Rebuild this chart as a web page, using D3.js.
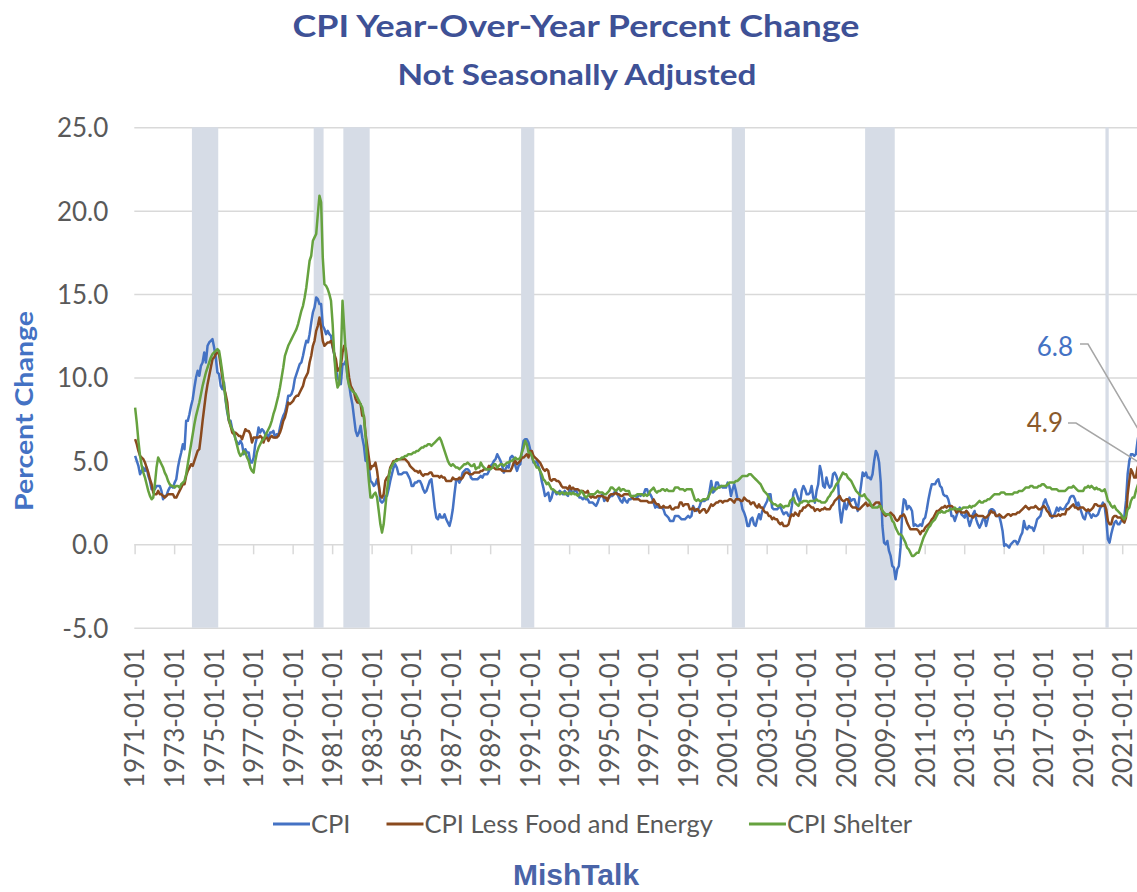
<!DOCTYPE html>
<html>
<head>
<meta charset="utf-8">
<script src="https://cdn.jsdelivr.net/npm/d3@7"></script>
<style>
    body { margin: 0; background: #fff; }
    svg { display: block; font-family: Lato, "Open Sans", sans-serif; }
</style>
</head>
<body>
<svg id="chart" width="1137" height="892"></svg>
<script>
// Monthly categories: 1971-01 .. 2021-11
const firstMonth = new Date(1971, 0, 1);
const lastMonthExclusive = new Date(2021, 11, 1);

// Y axis ticks
const yTicks = [-5, 0, 5, 10, 15, 20, 25];

// NBER recessions (first month, last month)
const recessions = [
    ["1973-12", "1975-03"],
    ["1980-02", "1980-07"],
    ["1981-08", "1982-11"],
    ["1990-08", "1991-03"],
    ["2001-04", "2001-11"],
    ["2008-01", "2009-06"],
    ["2020-03", "2020-04"]
];

// CPI, all items, YoY % (one row per year)
const cpi = [
    5.3, 5.0, 4.7, 4.2, 4.4, 4.6, 4.4, 4.6, 4.1, 3.8, 3.3, 3.3,
    3.3, 3.5, 3.5, 3.5, 3.2, 2.7, 2.9, 2.9, 3.2, 3.4, 3.5, 3.4,
    3.7, 3.9, 4.6, 5.1, 5.5, 6.0, 5.7, 7.4, 7.4, 7.8, 8.3, 8.7,
    9.4, 10.0, 10.4, 10.1, 10.7, 10.9, 11.5, 10.9, 11.9, 12.1, 12.2, 12.3,
    11.8, 11.2, 10.3, 10.2, 9.5, 9.3, 9.7, 8.6, 7.9, 7.4, 7.4, 6.9,
    6.7, 6.3, 6.1, 6.0, 6.2, 6.0, 5.4, 5.7, 5.5, 5.5, 4.9, 4.9,
    5.2, 6.0, 6.4, 7.0, 6.7, 6.9, 6.8, 6.6, 6.6, 6.4, 6.7, 6.7,
    6.8, 6.4, 6.6, 6.5, 7.0, 7.4, 7.7, 7.9, 8.3, 8.9, 8.9, 9.0,
    9.3, 9.9, 10.2, 10.5, 10.8, 10.9, 11.3, 11.8, 12.2, 12.1, 12.6, 13.3,
    13.9, 14.2, 14.8, 14.7, 14.4, 14.4, 13.1, 12.9, 12.6, 12.8, 12.6, 12.5,
    11.8, 11.4, 10.5, 10.0, 9.8, 9.6, 10.8, 10.8, 11.0, 10.1, 9.6, 8.9,
    8.4, 7.6, 6.8, 6.5, 6.7, 7.1, 6.4, 5.9, 5.0, 5.1, 4.6, 3.8,
    3.7, 3.5, 3.6, 3.9, 3.5, 2.6, 2.5, 2.6, 2.9, 2.9, 3.3, 3.8,
    4.2, 4.6, 4.8, 4.6, 4.2, 4.2, 4.2, 4.3, 4.3, 4.3, 4.1, 3.9,
    3.5, 3.5, 3.7, 3.7, 3.8, 3.8, 3.6, 3.3, 3.1, 3.2, 3.5, 3.8,
    3.9, 3.1, 2.2, 1.6, 1.5, 1.8, 1.6, 1.6, 1.8, 1.5, 1.3, 1.1,
    1.5, 2.1, 3.0, 3.8, 3.9, 3.7, 3.9, 4.3, 4.4, 4.5, 4.5, 4.4,
    4.0, 3.9, 3.9, 3.9, 3.9, 4.0, 4.1, 4.0, 4.2, 4.2, 4.2, 4.4,
    4.7, 4.8, 5.0, 5.1, 5.4, 5.2, 5.0, 4.7, 4.3, 4.5, 4.7, 4.6,
    5.2, 5.3, 5.2, 4.7, 4.4, 4.7, 4.8, 5.6, 6.2, 6.3, 6.3, 6.1,
    5.7, 5.3, 4.9, 4.9, 5.0, 4.7, 4.4, 3.8, 3.4, 2.9, 3.0, 3.1,
    2.6, 2.8, 3.2, 3.2, 3.0, 3.1, 3.2, 3.1, 3.0, 3.2, 3.0, 2.9,
    3.3, 3.2, 3.1, 3.2, 3.2, 3.0, 2.8, 2.8, 2.7, 2.8, 2.7, 2.7,
    2.5, 2.5, 2.5, 2.4, 2.3, 2.5, 2.8, 2.9, 3.0, 2.6, 2.7, 2.7,
    2.8, 2.9, 2.9, 3.1, 3.2, 3.0, 2.8, 2.6, 2.5, 2.8, 2.6, 2.5,
    2.7, 2.7, 2.8, 2.9, 2.9, 2.8, 3.0, 2.9, 3.0, 3.0, 3.3, 3.3,
    3.0, 3.0, 2.8, 2.5, 2.2, 2.3, 2.2, 2.2, 2.2, 2.1, 1.8, 1.7,
    1.6, 1.4, 1.4, 1.4, 1.7, 1.7, 1.7, 1.6, 1.5, 1.5, 1.5, 1.6,
    1.7, 1.6, 1.7, 2.3, 2.1, 2.0, 2.1, 2.3, 2.6, 2.6, 2.6, 2.7,
    2.7, 3.2, 3.8, 3.1, 3.2, 3.7, 3.7, 3.4, 3.5, 3.4, 3.4, 3.4,
    3.7, 3.5, 2.9, 3.3, 3.6, 3.2, 2.7, 2.7, 2.6, 2.1, 1.9, 1.6,
    1.1, 1.1, 1.5, 1.6, 1.2, 1.1, 1.5, 1.8, 1.5, 2.0, 2.2, 2.4,
    2.6, 3.0, 3.0, 2.2, 2.1, 2.1, 2.1, 2.2, 2.3, 2.0, 1.8, 1.9,
    1.9, 1.7, 1.7, 2.3, 3.1, 3.3, 3.0, 2.7, 2.5, 3.2, 3.5, 3.3,
    3.0, 3.0, 3.1, 3.5, 2.8, 2.5, 3.2, 3.6, 4.7, 4.3, 3.5, 3.4,
    4.0, 3.6, 3.4, 3.5, 4.2, 4.3, 4.1, 3.8, 2.1, 1.3, 2.0, 2.5,
    2.1, 2.4, 2.8, 2.6, 2.7, 2.7, 2.4, 2.0, 2.8, 3.5, 4.3, 4.1,
    4.3, 4.0, 4.0, 3.9, 4.2, 5.0, 5.6, 5.4, 4.9, 3.7, 1.1, 0.1,
    0.0, 0.2, -0.4, -0.7, -1.3, -1.4, -2.1, -1.5, -1.3, -0.2, 1.8, 2.7,
    2.6, 2.1, 2.3, 2.2, 2.0, 1.1, 1.2, 1.1, 1.1, 1.2, 1.1, 1.5,
    1.6, 2.1, 2.7, 3.2, 3.6, 3.6, 3.6, 3.8, 3.9, 3.5, 3.4, 3.0,
    2.9, 2.9, 2.7, 2.3, 1.7, 1.7, 1.4, 1.7, 2.0, 2.2, 1.8, 1.7,
    1.6, 2.0, 1.5, 1.1, 1.4, 1.8, 2.0, 1.5, 1.2, 1.0, 1.2, 1.5,
    1.6, 1.1, 1.5, 2.0, 2.1, 2.1, 2.0, 1.7, 1.7, 1.7, 1.3, 0.8,
    -0.1, 0.0, -0.1, -0.2, 0.0, 0.1, 0.2, 0.2, 0.0, 0.2, 0.5, 0.7,
    1.4, 1.0, 0.9, 1.1, 1.0, 1.0, 0.8, 1.1, 1.5, 1.6, 1.7, 2.1,
    2.5, 2.7, 2.4, 2.2, 1.9, 1.6, 1.7, 1.9, 2.2, 2.0, 2.2, 2.1,
    2.1, 2.2, 2.4, 2.5, 2.8, 2.9, 2.9, 2.7, 2.3, 2.5, 2.2, 1.9,
    1.6, 1.5, 1.9, 2.0, 1.8, 1.6, 1.8, 1.7, 1.7, 1.8, 2.1, 2.3,
    2.5, 2.3, 1.5, 0.3, 0.1, 0.6, 1.0, 1.3, 1.4, 1.2, 1.2, 1.4,
    1.4, 1.7, 2.6, 4.2, 5.0, 5.4, 5.4, 5.3, 5.4, 6.2, 6.8
];

// CPI less food and energy, YoY %
const core = [
    6.3, 6.0, 5.6, 5.3, 5.2, 5.1, 4.9, 4.6, 4.3, 3.9, 3.6, 3.1,
    3.0, 3.0, 3.2, 3.0, 3.0, 2.9, 2.8, 2.9, 3.0, 3.0, 3.0, 3.0,
    2.8, 2.8, 3.0, 3.2, 3.4, 3.6, 3.6, 4.1, 4.4, 4.6, 4.8, 4.7,
    5.0, 5.3, 5.6, 5.7, 6.5, 7.4, 8.2, 9.0, 9.6, 10.1, 10.6, 11.1,
    11.2, 11.4, 11.5, 11.4, 10.7, 10.0, 9.4, 9.0, 8.5, 7.4, 7.1, 6.7,
    6.6, 6.7, 6.6, 6.5, 6.5, 6.3, 6.6, 6.9, 6.8, 6.8, 6.6, 6.1,
    6.4, 6.4, 6.4, 6.4, 6.5, 6.4, 6.1, 6.4, 6.4, 6.2, 6.4, 6.5,
    6.4, 6.4, 6.4, 6.5, 6.7, 7.0, 7.4, 7.6, 8.0, 8.5, 8.4, 8.5,
    8.6, 8.8, 8.9, 8.9, 9.1, 9.3, 9.5, 9.9, 10.1, 10.3, 10.9, 11.3,
    11.9, 12.2, 12.8, 13.1, 13.6, 13.0, 12.2, 11.9, 12.0, 12.1, 12.1, 12.2,
    11.9, 11.4, 11.1, 10.4, 10.5, 10.7, 11.5, 11.9, 11.7, 10.8, 10.0, 9.5,
    9.3, 9.1, 8.7, 8.5, 8.5, 8.4, 7.7, 7.7, 6.6, 5.9, 5.2, 4.5,
    4.7, 4.7, 4.9, 4.4, 3.6, 2.9, 2.8, 3.0, 3.8, 4.0, 4.1, 4.6,
    4.8, 5.0, 5.0, 5.1, 5.1, 5.1, 5.1, 5.1, 5.1, 5.0, 4.9, 4.7,
    4.6, 4.5, 4.4, 4.4, 4.3, 4.4, 4.2, 4.1, 4.2, 4.2, 4.2, 4.3,
    4.3, 4.1, 4.1, 4.1, 4.1, 4.0, 4.1, 4.0, 4.0, 3.8, 3.8, 3.8,
    3.8, 4.0, 3.9, 3.9, 3.9, 4.0, 3.9, 4.0, 4.2, 4.3, 4.3, 4.2,
    4.2, 4.2, 4.3, 4.3, 4.3, 4.3, 4.4, 4.4, 4.5, 4.5, 4.5, 4.7,
    4.6, 4.6, 4.6, 4.5, 4.5, 4.5, 4.5, 4.4, 4.4, 4.4, 4.4, 4.4,
    4.4, 4.6, 4.9, 5.0, 4.8, 4.9, 5.0, 5.2, 5.2, 5.3, 5.4, 5.2,
    5.6, 5.6, 5.3, 5.2, 5.1, 5.0, 4.9, 4.7, 4.5, 4.4, 4.5, 4.4,
    3.9, 3.8, 3.9, 3.9, 3.8, 3.8, 3.7, 3.5, 3.4, 3.4, 3.4, 3.3,
    3.5, 3.3, 3.4, 3.3, 3.3, 3.3, 3.2, 3.2, 3.2, 3.1, 3.1, 3.2,
    2.9, 2.8, 2.9, 2.8, 2.8, 2.9, 2.9, 2.9, 2.9, 2.8, 2.8, 2.6,
    2.9, 3.0, 3.0, 3.0, 3.1, 3.0, 3.0, 2.9, 2.9, 3.0, 3.0, 3.0,
    3.0, 2.9, 2.8, 2.7, 2.7, 2.7, 2.7, 2.6, 2.6, 2.6, 2.6, 2.6,
    2.5, 2.5, 2.5, 2.7, 2.5, 2.4, 2.4, 2.2, 2.2, 2.3, 2.2, 2.2,
    2.2, 2.3, 2.1, 2.1, 2.2, 2.2, 2.2, 2.5, 2.5, 2.3, 2.4, 2.4,
    2.4, 2.1, 2.1, 2.2, 2.0, 2.1, 2.1, 1.9, 2.0, 2.1, 2.1, 1.9,
    2.0, 2.2, 2.4, 2.3, 2.4, 2.5, 2.5, 2.6, 2.6, 2.5, 2.6, 2.6,
    2.6, 2.7, 2.7, 2.6, 2.5, 2.7, 2.7, 2.7, 2.6, 2.6, 2.8, 2.7,
    2.6, 2.6, 2.4, 2.5, 2.5, 2.3, 2.2, 2.4, 2.2, 2.2, 2.0, 1.9,
    1.9, 1.7, 1.7, 1.5, 1.6, 1.5, 1.5, 1.3, 1.2, 1.3, 1.1, 1.1,
    1.1, 1.2, 1.6, 1.8, 1.7, 1.9, 1.8, 1.7, 2.0, 2.0, 2.2, 2.2,
    2.3, 2.4, 2.3, 2.2, 2.2, 2.0, 2.1, 2.1, 2.0, 2.1, 2.1, 2.2,
    2.1, 2.1, 2.1, 2.3, 2.4, 2.6, 2.7, 2.8, 2.9, 2.7, 2.6, 2.6,
    2.7, 2.7, 2.5, 2.3, 2.2, 2.2, 2.2, 2.1, 2.1, 2.2, 2.3, 2.4,
    2.5, 2.3, 2.4, 2.3, 2.3, 2.4, 2.5, 2.5, 2.5, 2.2, 2.0, 1.8,
    1.7, 1.8, 1.8, 1.9, 1.8, 1.7, 1.5, 1.4, 1.5, 1.7, 1.7, 1.8,
    1.6, 1.3, 1.1, 0.9, 0.9, 0.9, 0.9, 0.9, 0.8, 0.6, 0.8, 0.8,
    1.0, 1.1, 1.2, 1.3, 1.5, 1.6, 1.8, 2.0, 2.0, 2.1, 2.2, 2.2,
    2.3, 2.2, 2.3, 2.3, 2.3, 2.2, 2.1, 1.9, 2.0, 2.0, 1.9, 1.9,
    1.9, 2.0, 1.9, 1.7, 1.7, 1.6, 1.7, 1.8, 1.7, 1.7, 1.7, 1.7,
    1.6, 1.6, 1.7, 1.8, 2.0, 1.9, 1.9, 1.7, 1.7, 1.8, 1.7, 1.6,
    1.6, 1.7, 1.8, 1.8, 1.7, 1.8, 1.8, 1.8, 1.9, 1.9, 2.0, 2.1,
    2.2, 2.3, 2.2, 2.1, 2.2, 2.2, 2.2, 2.3, 2.2, 2.1, 2.1, 2.2,
    2.3, 2.2, 2.0, 1.9, 1.7, 1.7, 1.7, 1.7, 1.7, 1.8, 1.7, 1.8,
    1.8, 1.8, 2.1, 2.1, 2.2, 2.3, 2.4, 2.2, 2.2, 2.1, 2.2, 2.2,
    2.2, 2.1, 2.0, 2.1, 2.0, 2.1, 2.2, 2.4, 2.4, 2.3, 2.3, 2.3,
    2.3, 2.4, 2.1, 1.4, 1.2, 1.2, 1.6, 1.7, 1.7, 1.6, 1.6, 1.6,
    1.4, 1.3, 1.6, 3.0, 3.8, 4.5, 4.3, 4.0, 4.0, 4.6, 4.9
];

// CPI shelter, YoY %
const shelter = [
    8.2, 7.3, 6.2, 5.3, 4.7, 4.3, 4.0, 3.6, 3.2, 2.9, 2.7, 2.8,
    3.6, 4.6, 5.2, 5.0, 4.8, 4.6, 4.3, 4.1, 3.8, 3.6, 3.5, 3.5,
    3.4, 3.5, 3.5, 3.4, 3.6, 3.7, 3.8, 4.2, 4.8, 5.4, 6.0, 6.6,
    7.2, 7.7, 8.1, 8.5, 9.0, 9.5, 9.9, 10.3, 10.6, 10.9, 11.2, 11.4,
    11.5, 11.6, 11.7, 11.6, 11.0, 10.3, 9.5, 8.7, 8.0, 7.5, 7.1, 6.9,
    6.7, 6.3, 5.9, 5.5, 5.3, 5.4, 5.6, 5.5, 5.2, 5.0, 4.6, 4.4,
    4.3, 5.0, 5.5, 5.8, 6.0, 6.2, 6.3, 6.5, 6.7, 6.9, 7.1, 7.4,
    7.8, 8.1, 8.5, 8.9, 9.4, 10.0, 10.6, 11.3, 11.6, 11.9, 12.1, 12.3,
    12.5, 12.7, 12.9, 13.2, 13.6, 14.0, 14.3, 14.8, 15.4, 16.2, 17.0, 17.3,
    18.2, 18.4, 18.6, 19.8, 20.9, 20.5, 17.2, 15.6, 15.5, 15.3, 15.0, 14.6,
    13.2, 11.3, 10.0, 9.4, 9.6, 11.2, 14.6, 13.0, 11.4, 10.0, 9.5, 9.3,
    9.2, 9.1, 9.0, 8.8, 8.6, 8.4, 8.2, 7.6, 6.5, 5.0, 3.8, 2.8,
    2.8, 3.0, 3.1, 2.8, 2.0, 1.2, 0.7, 1.2, 2.2, 3.2, 4.0, 4.5,
    4.7, 4.9, 5.0, 5.0, 5.1, 5.1, 5.2, 5.2, 5.3, 5.3, 5.4, 5.4,
    5.4, 5.5, 5.5, 5.6, 5.6, 5.7, 5.8, 5.8, 5.9, 5.9, 6.0, 6.0,
    5.9, 6.0, 6.1, 6.2, 6.3, 6.4, 6.2, 5.9, 5.6, 5.3, 5.0, 4.8,
    4.7, 4.8, 4.7, 4.6, 4.6, 4.5, 4.6, 4.7, 4.8, 4.8, 4.9, 4.8,
    4.7, 4.7, 4.8, 4.5, 4.6, 4.6, 4.9, 4.7, 4.6, 4.5, 4.5, 4.5,
    4.5, 4.6, 4.8, 4.8, 4.6, 4.7, 4.8, 4.8, 4.7, 4.8, 4.9, 4.9,
    5.0, 5.0, 5.1, 5.2, 5.1, 5.1, 5.2, 5.5, 5.8, 6.2, 6.0, 5.5,
    5.5, 5.3, 5.0, 4.8, 4.6, 4.6, 4.4, 4.2, 3.9, 3.8, 3.6, 3.7,
    3.5, 3.3, 3.3, 3.2, 3.1, 3.1, 3.0, 3.1, 3.1, 3.0, 3.1, 3.0,
    3.1, 3.0, 3.1, 3.0, 3.0, 2.9, 3.0, 3.2, 3.1, 2.9, 2.8, 2.9,
    3.0, 3.0, 3.0, 3.0, 3.1, 3.2, 3.1, 3.1, 3.1, 3.0, 3.0, 3.1,
    3.2, 3.4, 3.4, 3.3, 3.2, 3.3, 3.4, 3.2, 3.3, 3.3, 3.2, 3.2,
    3.2, 2.9, 2.9, 2.9, 2.9, 3.0, 3.0, 3.0, 3.0, 2.9, 3.0, 2.9,
    3.0, 3.2, 3.3, 3.4, 3.2, 3.1, 3.2, 3.2, 3.3, 3.3, 3.2, 3.3,
    3.2, 3.2, 3.2, 3.2, 3.4, 3.4, 3.4, 3.3, 3.3, 3.3, 3.2, 3.3,
    3.3, 3.3, 3.3, 3.0, 2.7, 2.6, 2.7, 2.6, 2.6, 2.7, 2.7, 2.7,
    2.8, 3.0, 3.2, 3.4, 3.3, 3.3, 3.4, 3.4, 3.5, 3.5, 3.5, 3.5,
    3.6, 3.7, 3.7, 3.7, 3.7, 3.8, 3.8, 3.9, 4.0, 4.1, 4.1, 4.1,
    4.1, 4.2, 4.2, 4.1, 4.0, 3.9, 3.8, 3.7, 3.6, 3.4, 3.2, 3.1,
    3.0, 2.8, 2.6, 2.5, 2.4, 2.4, 2.3, 2.3, 2.4, 2.3, 2.2, 2.3,
    2.3, 2.3, 2.6, 2.7, 2.8, 2.5, 2.4, 2.3, 2.5, 2.5, 2.6, 2.6,
    2.6, 2.5, 2.6, 2.6, 2.6, 2.6, 2.7, 2.6, 2.6, 2.5, 2.5, 2.5,
    2.6, 2.8, 2.9, 3.1, 3.2, 3.4, 3.6, 3.7, 3.9, 4.1, 4.3, 4.2,
    4.2, 4.0, 3.9, 3.8, 3.6, 3.4, 3.2, 3.1, 3.0, 2.9, 2.9, 3.0,
    2.8, 2.7, 2.6, 2.4, 2.2, 2.2, 2.2, 2.2, 2.3, 2.3, 2.0, 1.9,
    1.8, 1.8, 1.8, 1.7, 1.4, 1.3, 1.0, 0.8, 0.6, 0.6, 0.5, 0.3,
    0.1, -0.2, -0.3, -0.5, -0.7, -0.7, -0.6, -0.5, -0.5, -0.2, 0.1, 0.4,
    0.6, 0.8, 1.0, 1.1, 1.3, 1.4, 1.5, 1.7, 1.9, 1.9, 2.0, 1.9,
    1.9, 2.0, 2.0, 2.1, 2.1, 2.1, 2.2, 2.1, 2.1, 2.1, 2.1, 2.2,
    2.2, 2.2, 2.2, 2.3, 2.2, 2.3, 2.3, 2.4, 2.5, 2.6, 2.5, 2.5,
    2.6, 2.6, 2.7, 2.7, 2.8, 2.9, 3.0, 3.0, 3.0, 3.0, 3.1, 3.1,
    3.1, 3.0, 3.0, 3.0, 3.0, 3.0, 3.1, 3.1, 3.1, 3.2, 3.2, 3.2,
    3.3, 3.4, 3.4, 3.4, 3.5, 3.5, 3.4, 3.4, 3.4, 3.5, 3.5, 3.6,
    3.6, 3.5, 3.4, 3.4, 3.4, 3.3, 3.3, 3.3, 3.3, 3.2, 3.2, 3.2,
    3.2, 3.2, 3.3, 3.4, 3.4, 3.4, 3.5, 3.4, 3.3, 3.2, 3.2, 3.2,
    3.2, 3.4, 3.4, 3.5, 3.4, 3.5, 3.4, 3.3, 3.4, 3.3, 3.3, 3.2,
    3.2, 3.3, 3.0, 2.6, 2.5, 2.3, 2.2, 2.3, 2.1, 2.0, 1.9, 1.8,
    1.6, 1.5, 1.7, 2.1, 2.2, 2.6, 2.8, 2.8, 3.2, 3.5, 3.8
];

const seriesNames = ["CPI", "CPI Less Food and Energy", "CPI Shelter"];
const seriesColors = ["#4472c4", "#8a4a1e", "#66a23f"];

// Labels on the last point of two series
const calloutSeries = [0, 1];
const calloutColors = ["#4472c4", "#8b5a2b"];

document.addEventListener("DOMContentLoaded", () => {
    const svg = d3.select("#chart");
    const fmtMonth = d3.timeFormat("%Y-%m");
    const fmtLabel = d3.timeFormat("%Y-%m-%d");
    // plain hyphen for negatives, like the source
    const fmtValue = v => d3.format(".1f")(v).replace("\u2212", "-");

    const months = d3.timeMonth.range(firstMonth, lastMonthExclusive);
    const keys = months.map(fmtMonth);
    const series = [cpi, core, shelter];
    series.forEach((s, i) => {
        if (s.length !== keys.length) console.warn(seriesNames[i], s.length, keys.length);
    });

    // Plot area (right side runs a bit past the picture edge, like the source)
    const plot = { left: 134.3, right: 1140, top: 127.3, bottom: 627.7 };

    const x = d3.scaleBand()
        .domain(keys)
        .range([plot.left, plot.right])
        .padding(0);
    const bw = x.bandwidth();

    const y = d3.scaleLinear()
        .domain([-5, 25])
        .range([plot.bottom, plot.top]);

    // Gridlines
    const grid = svg.append("g")
        .attr("transform", `translate(${plot.left},0)`)
        .call(d3.axisLeft(y).tickValues(yTicks).tickSize(-(plot.right - plot.left)).tickFormat(""));
    grid.select(".domain").remove();
    grid.selectAll("line")
        .attr("stroke", "#d9d9d9")
        .attr("stroke-width", 1.5);

    // Category tick marks hang below the zero line
    const tickKeys = keys.filter((k, i) => i % 24 === 0);
    const ticks = svg.append("g")
        .attr("transform", `translate(0,${y(0)})`)
        .call(d3.axisBottom(x).tickValues(tickKeys).tickSize(10).tickFormat(""));
    ticks.select(".domain").remove();
    ticks.selectAll("line")
        .attr("stroke", "#d9d9d9")
        .attr("stroke-width", 1.5);

    // Recession bars
    svg.append("g")
        .selectAll("rect")
        .data(recessions)
        .enter()
        .append("rect")
        .attr("x", d => x(d[0]))
        .attr("width", d => x(d[1]) + bw - x(d[0]))
        .attr("y", y(25))
        .attr("height", y(-5) - y(25))
        .attr("fill", "#d6dce6");

    // Y labels
    const yAxis = svg.append("g")
        .attr("transform", `translate(${plot.left},0)`)
        .call(d3.axisLeft(y).tickValues(yTicks).tickSize(0).tickPadding(26).tickFormat(fmtValue));
    yAxis.select(".domain").remove();
    yAxis.selectAll("text")
        .attr("font-family", "Lato, sans-serif")
        .attr("font-size", 26)
        .attr("fill", "#595959")
        .attr("dy", "0.36em");

    // X labels, rotated
    const xAxis = svg.append("g")
        .attr("transform", `translate(0,648)`)
        .call(d3.axisBottom(x).tickValues(tickKeys).tickSize(0)
            .tickFormat(k => fmtLabel(d3.timeParse("%Y-%m")(k))));
    xAxis.select(".domain").remove();
    xAxis.selectAll("text")
        .attr("font-family", "Lato, sans-serif")
        .attr("font-size", 26)
        .attr("fill", "#595959")
        .attr("transform", "rotate(-90)")
        .attr("x", 0)
        .attr("y", 0)
        .attr("dy", "0.36em")
        .attr("text-anchor", "end");

    // Lines
    const line = d3.line()
        .x((d, i) => x(keys[i]) + bw / 2)
        .y(d => y(d));

    series.forEach((s, i) => {
        svg.append("path")
            .datum(s)
            .attr("fill", "none")
            .attr("stroke", seriesColors[i])
            .attr("stroke-width", 2.5)
            .attr("stroke-linejoin", "round")
            .attr("d", line);
    });

    // Callouts with leader lines
    const calloutPos = [
        { tx: 1073, ty: 356, lx: 1080, ly: 344 },
        { tx: 1063, ty: 432, lx: 1068, ly: 423 }
    ];
    calloutSeries.forEach((si, j) => {
        const s = series[si];
        const last = s.length - 1;
        const px = x(keys[last]) + bw / 2;
        const py = y(s[last]);
        const p = calloutPos[j];
        svg.append("path")
            .attr("d", `M${p.lx},${p.ly}H${p.lx + 8}L${px},${py}`)
            .attr("fill", "none")
            .attr("stroke", "#a6a6a6")
            .attr("stroke-width", 1.5);
        svg.append("text")
            .attr("x", p.tx)
            .attr("y", p.ty)
            .attr("text-anchor", "end")
            .attr("font-size", 26)
            .attr("fill", calloutColors[j])
            .text(fmtValue(s[last]));
    });

    // Titles
    svg.append("text")
        .attr("x", 576)
        .attr("y", 37)
        .attr("text-anchor", "middle")
        .attr("font-size", 30)
        .attr("font-weight", "bold")
        .attr("fill", "#3e5196")
        .attr("textLength", 567)
        .attr("lengthAdjust", "spacingAndGlyphs")
        .text("CPI Year-Over-Year Percent Change");

    svg.append("text")
        .attr("x", 577)
        .attr("y", 85)
        .attr("text-anchor", "middle")
        .attr("font-size", 28)
        .attr("font-weight", "bold")
        .attr("fill", "#3e5196")
        .attr("textLength", 359)
        .attr("lengthAdjust", "spacingAndGlyphs")
        .text("Not Seasonally Adjusted");

    svg.append("text")
        .attr("transform", "translate(33,411) rotate(-90)")
        .attr("text-anchor", "middle")
        .attr("font-size", 25)
        .attr("font-weight", "bold")
        .attr("fill", "#4472c4")
        .attr("textLength", 200)
        .attr("lengthAdjust", "spacingAndGlyphs")
        .text("Percent Change");

    // Legend
    const legend = svg.append("g").attr("transform", "translate(273,824)");
    let lx = 0;
    seriesNames.forEach((name, i) => {
        const item = legend.append("g").attr("transform", `translate(${lx},0)`);
        item.append("line")
            .attr("x1", 0).attr("x2", 37)
            .attr("stroke", seriesColors[i])
            .attr("stroke-width", 3);
        const t = item.append("text")
            .attr("x", 38)
            .attr("dy", "0.35em")
            .attr("font-size", 25.5)
            .attr("fill", "#595959")
            .text(name);
        lx += 38 + t.node().getComputedTextLength() + 36;
    });

    svg.append("text")
        .attr("x", 576)
        .attr("y", 885)
        .attr("text-anchor", "middle")
        .attr("font-family", "'Liberation Sans', Arial, sans-serif")
        .attr("font-size", 30)
        .attr("font-weight", "bold")
        .attr("fill", "#4a64a8")
        .text("MishTalk");
});
</script>
</body>
</html>
